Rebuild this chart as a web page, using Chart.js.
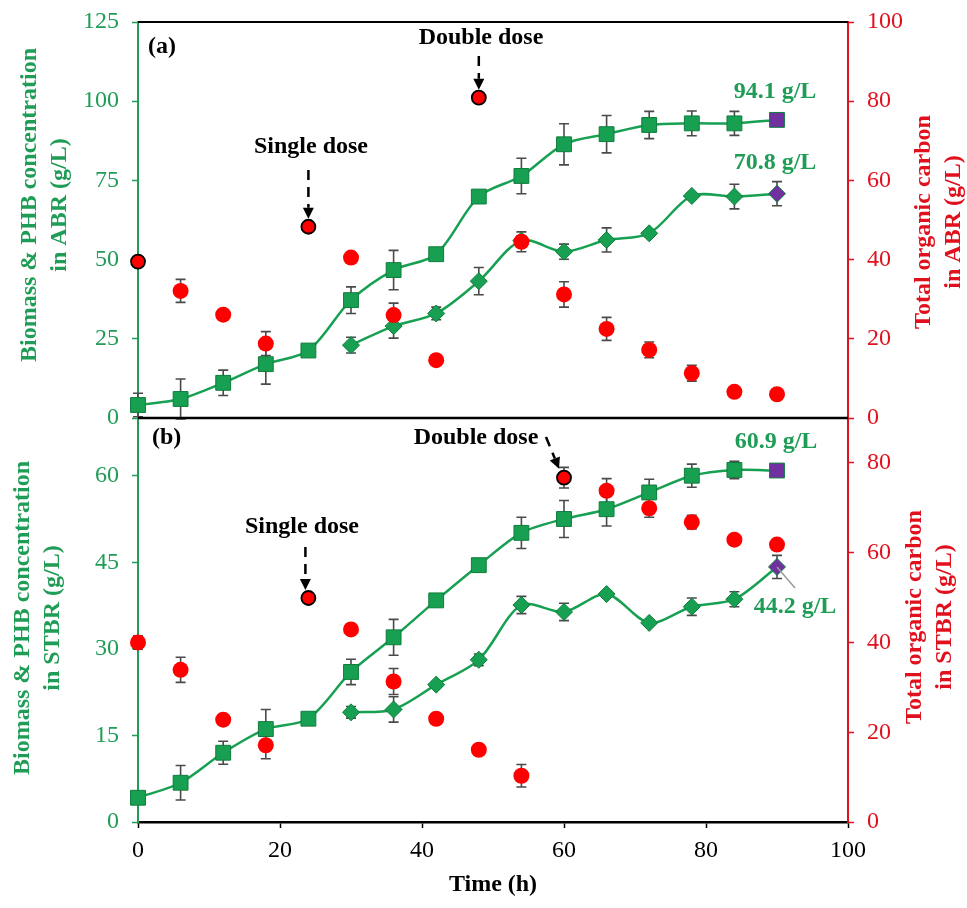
<!DOCTYPE html>
<html><head><meta charset="utf-8">
<script src="https://cdn.jsdelivr.net/npm/chart.js@4.4.1/dist/chart.umd.min.js"></script>
<style>html,body{margin:0;padding:0;background:#fff;}#wrap{width:967px;height:908px;position:relative;}</style>
</head><body><div id="wrap"><canvas id="c" width="967" height="908"></canvas></div>
<script>
// ---------- data ----------
const timeH = [0,6,12,18,24,30,36,42,48,54,60,66,72,78,84,90];
const phbTime = [30,36,42,48,54,60,66,72,78,84,90];
const xTicks = [0,20,40,60,80,100];
const ticksLeftA = [0,25,50,75,100,125];
const ticksRightA = [0,20,40,60,80,100];
const ticksLeftB = [0,15,30,45,60];
const ticksRightB = [0,20,40,60,80];
// Panel (a) ABR
const abrBiomass    = [4.1,6.0,11.1,17.0,21.3,37.2,46.7,51.7,69.9,76.4,86.4,89.6,92.5,93.0,93.0,94.1];
const abrBiomassErr = [3.7,6.3,4.0,6.3,0,4.2,6.2,1.0,1.0,5.6,6.5,5.9,4.3,3.9,3.8,0.8];
const abrPHB        = [23.0,29.0,33.0,43.2,56.0,52.5,56.2,58.3,70.1,69.9,70.8];
const abrPHBErr     = [2.5,3.8,2.0,4.3,1.5,2.4,3.8,1.0,1.0,3.9,3.8];
const abrTOC        = [39.5,32.1,26.1,18.8,48.3,40.5,26.0,14.6,80.9,44.5,31.2,22.5,17.2,11.3,6.6,6.0];
const abrTOCErr     = [0.8,2.9,1.2,3.0,0.5,1.2,3.0,0.5,0.5,2.5,3.2,2.9,2.0,2.0,1.2,0.5];
// Panel (b) STBR
const stbrBiomass    = [4.2,6.8,12.0,16.1,17.9,26.0,32.0,38.4,44.5,50.1,52.5,54.2,57.1,60.0,61.0,60.9];
const stbrBiomassErr = [0.5,3.0,2.0,3.4,0.5,2.2,3.1,0.5,0.5,2.7,3.2,2.9,2.3,2.0,1.5,1.0];
const stbrPHB        = [19.0,19.5,23.8,28.1,37.6,36.4,39.5,34.5,37.3,38.6,44.2];
const stbrPHBErr     = [1.0,2.2,0.5,1.0,1.5,1.5,0.5,0.5,1.5,1.3,2.0];
const stbrTOC        = [40.0,33.9,22.8,17.1,49.9,42.9,31.3,23.0,16.1,10.3,76.7,73.8,69.9,66.8,62.9,61.8];
const stbrTOCErr     = [1.5,2.8,1.0,3.0,0.5,1.2,2.9,0.5,0.5,2.5,2.3,2.7,2.0,1.5,1.0,1.0];
const doseIdxA = [0,4,8];   // outlined TOC points (ABR)
const doseIdxB = [4,10];    // outlined TOC points (STBR)

// ---------- styles ----------
const GREEN = '#17a052', GREEN_TXT = '#1f9d57', GREEN_DARK = '#0f7d3c';
const RED = '#ff0000', RED_AX = '#e0101c', PURPLE = '#7030a0';
const SERIF = "'Liberation Serif','Times New Roman',serif";

const pts = (xs, ys) => xs.map((x, i) => ({x, y: ys[i]}));
const lastPurple = n => Array.from({length:n}, (_, i) => i === n-1 ? PURPLE : GREEN);
const tocBorder = (n, idx) => Array.from({length:n}, (_, i) => idx.includes(i) ? '#000' : RED);
const tocBW = (n, idx) => Array.from({length:n}, (_, i) => idx.includes(i) ? 1.8 : 0);
const tocR = (n, idx) => Array.from({length:n}, (_, i) => idx.includes(i) ? 7 : 8);

function tocDs(data, idx, axis) {
  return {type:'scatter', data: pts(timeH, data), yAxisID: axis, showLine:false,
    pointStyle:'circle', pointRadius: tocR(data.length, idx), pointBackgroundColor: RED,
    pointBorderColor: tocBorder(data.length, idx), pointBorderWidth: tocBW(data.length, idx), clip:false};
}
function lineDs(xs, data, axis, style, r) {
  return {type:'line', data: pts(xs, data), yAxisID: axis, showLine:true, borderColor: GREEN,
    borderWidth: 2.5, tension: 0.3, fill:false, pointStyle: style, pointRadius: r,
    pointBackgroundColor: lastPurple(data.length), pointBorderColor: GREEN_DARK, pointBorderWidth: 1, clip:false};
}

function fixedTicks(arr) { return s => { s.ticks = arr.map(v => ({value: v})); }; }
const tickFont = {family: SERIF, size: 24};
function yAxis(pos, stackW, max, arr, color) {
  return {type:'linear', position: pos, stack: pos, stackWeight: stackW, min: 0, max: max,
    afterBuildTicks: fixedTicks(arr),
    afterFit: s => { s.width = pos === 'left' ? 138 : 119; s.paddingTop = 0; s.paddingBottom = 0; },
    grid: {drawOnChartArea:false, drawTicks:true, tickLength:6, color: color, tickWidth: 1.5},
    border: {color: color, width: 2},
    ticks: {font: tickFont, color: color, padding: 13}};
}

// ---------- overlay plugin ----------
function errBars(ctx, xs, ys, X, V, E) {
  ctx.save(); ctx.strokeStyle = '#4a4a4a'; ctx.lineWidth = 1.6; ctx.setLineDash([]);
  X.forEach((t, i) => {
    const e = E[i]; if (!e) return;
    const px = xs.getPixelForValue(t), p1 = ys.getPixelForValue(V[i]-e), p2 = ys.getPixelForValue(V[i]+e);
    ctx.beginPath(); ctx.moveTo(px, p1); ctx.lineTo(px, p2);
    ctx.moveTo(px-5, p1); ctx.lineTo(px+5, p1); ctx.moveTo(px-5, p2); ctx.lineTo(px+5, p2); ctx.stroke();
  });
  ctx.restore();
}
function arrow(ctx, x1, y1, x2, y2) {
  const a = Math.atan2(y2-y1, x2-x1), L = 11, W = 5.5;
  const bx = x2 - L*Math.cos(a), by = y2 - L*Math.sin(a);
  ctx.save(); ctx.strokeStyle = '#000'; ctx.fillStyle = '#000'; ctx.lineWidth = 2.5;
  ctx.setLineDash([10,7]); ctx.beginPath(); ctx.moveTo(x1, y1); ctx.lineTo(bx, by); ctx.stroke();
  ctx.setLineDash([]); ctx.beginPath(); ctx.moveTo(x2, y2);
  ctx.lineTo(bx + W*Math.sin(a), by - W*Math.cos(a)); ctx.lineTo(bx - W*Math.sin(a), by + W*Math.cos(a));
  ctx.closePath(); ctx.fill(); ctx.restore();
}
function vTitle(ctx, lines, cx, cy, color) {
  ctx.save(); ctx.translate(cx, cy); ctx.rotate(-Math.PI/2);
  ctx.font = 'bold 24px ' + SERIF; ctx.fillStyle = color; ctx.textAlign = 'center'; ctx.textBaseline = 'middle';
  ctx.fillText(lines[0], 0, -15); ctx.fillText(lines[1], 0, 15); ctx.restore();
}
function txt(ctx, s, x, y, color, align) {
  ctx.save(); ctx.font = 'bold 24px ' + SERIF; ctx.fillStyle = color; ctx.textAlign = align || 'center';
  ctx.textBaseline = 'middle'; ctx.fillText(s, x, y); ctx.restore();
}
const overlay = {
  id: 'overlay',
  beforeDatasetsDraw(chart) {
    const c = chart.ctx, s = chart.scales;
    errBars(c, s.x, s.yA, timeH, abrBiomass, abrBiomassErr);
    errBars(c, s.x, s.yA, phbTime, abrPHB, abrPHBErr);
    errBars(c, s.x, s.rA, timeH, abrTOC, abrTOCErr);
    errBars(c, s.x, s.yB, timeH, stbrBiomass, stbrBiomassErr);
    errBars(c, s.x, s.yB, phbTime, stbrPHB, stbrPHBErr);
    errBars(c, s.x, s.rB, timeH, stbrTOC, stbrTOCErr);
  },
  afterDraw(chart) {
    const c = chart.ctx, s = chart.scales, ca = chart.chartArea;
    // frame lines
    c.save(); c.strokeStyle = '#000'; c.lineWidth = 2;
    c.beginPath(); c.moveTo(ca.left, ca.top); c.lineTo(ca.right, ca.top); c.stroke();
    c.lineWidth = 2.5; c.beginPath(); c.moveTo(ca.left, s.yA.bottom); c.lineTo(ca.right, s.yA.bottom); c.stroke();
    c.restore();
    // axis titles
    vTitle(c, ['Biomass & PHB concentration', 'in ABR (g/L)'], 45, 205, GREEN_TXT);
    vTitle(c, ['Biomass & PHB concentration', 'in STBR (g/L)'], 38, 618, GREEN_TXT);
    vTitle(c, ['Total organic carbon', 'in ABR (g/L)'], 939, 222, RED_AX);
    vTitle(c, ['Total organic carbon', 'in STBR (g/L)'], 930, 617, RED_AX);
    txt(c, 'Time (h)', (ca.left + ca.right)/2, 885, '#000');
    // panel labels
    txt(c, '(a)', 148, 47, '#000', 'left');
    txt(c, '(b)', 152, 438, '#000', 'left');
    // dose annotations
    const xa24 = s.x.getPixelForValue(24), xa48 = s.x.getPixelForValue(48), xb60 = s.x.getPixelForValue(60);
    txt(c, 'Single dose', 311, 147, '#000');
    arrow(c, xa24, 170, xa24, s.rA.getPixelForValue(abrTOC[4]) - 8);
    txt(c, 'Double dose', 481, 38, '#000');
    arrow(c, xa48, 56, xa48, s.rA.getPixelForValue(abrTOC[8]) - 8);
    txt(c, 'Single dose', 302, 527, '#000');
    arrow(c, xa24 - 3, 547, xa24 - 3, s.rB.getPixelForValue(stbrTOC[4]) - 8);
    txt(c, 'Double dose', 476, 438, '#000');
    arrow(c, 546, 437, xb60 - 5, s.rB.getPixelForValue(stbrTOC[10]) - 9);
    // final value labels
    txt(c, '94.1 g/L', 775, 92, GREEN_TXT);
    txt(c, '70.8 g/L', 775, 163, GREEN_TXT);
    txt(c, '60.9 g/L', 776, 442, GREEN_TXT);
    const x90 = s.x.getPixelForValue(90), y442 = s.yB.getPixelForValue(stbrPHB[stbrPHB.length-1]);
    c.save(); c.strokeStyle = '#9a9a9a'; c.lineWidth = 1.5; c.beginPath();
    c.moveTo(x90, y442); c.lineTo(x90 + 18, y442 + 21); c.stroke(); c.restore();
    txt(c, '44.2 g/L', 795, 607, GREEN_TXT);
  }
};

new Chart(document.getElementById('c'), {
  data: {datasets: [
    tocDs(abrTOC, doseIdxA, 'rA'),
    tocDs(stbrTOC, doseIdxB, 'rB'),
    lineDs(timeH, abrBiomass, 'yA', 'rect', 10.5),
    lineDs(phbTime, abrPHB, 'yA', 'rectRot', 8.5),
    lineDs(timeH, stbrBiomass, 'yB', 'rect', 10.5),
    lineDs(phbTime, stbrPHB, 'yB', 'rectRot', 8.5)
  ]},
  options: {
    responsive: false, animation: false, devicePixelRatio: 1,
    layout: {padding: {top: 22, left: 0, right: 0, bottom: 0}},
    plugins: {legend: {display:false}, tooltip: {enabled:false}},
    scales: {
      x: {type:'linear', position:'bottom', min:0, max:100, afterBuildTicks: fixedTicks(xTicks),
        afterFit: s => { s.height = 86; s.paddingLeft = 0; s.paddingRight = 0; },
        grid: {drawOnChartArea:false, drawTicks:true, tickLength:6, color:'#000', tickWidth:1.5},
        border: {color:'#000', width:2.5},
        ticks: {font: tickFont, color:'#000', padding: 8, maxRotation: 0}},
      yB: yAxis('left', 404, 70, ticksLeftB, GREEN_TXT),
      rA: yAxis('right', 396, 100, ticksRightA, RED_AX),
      yA: yAxis('left', 396, 125, ticksLeftA, GREEN_TXT),
      rB: yAxis('right', 404, 90, ticksRightB, RED_AX)
    }
  },
  plugins: [overlay]
});
</script></body></html>
